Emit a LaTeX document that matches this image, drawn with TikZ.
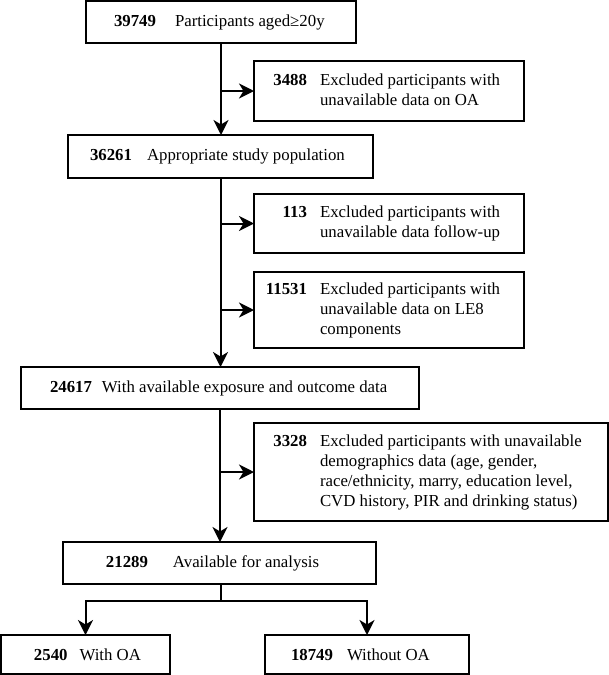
\documentclass[tikz,border=0pt]{standalone}
\usepackage{fontspec}
\setmainfont{Liberation Serif}
\usetikzlibrary{arrows.meta}
\newcommand{\bxtext}[3]{\makebox[#1][l]{\hspace{#2}#3}}
\newcommand{\exctext}[3]{\makebox[#1][l]{\hspace{11pt}\begin{tabular}{@{}r@{\hspace{13pt}}l@{}}\makebox[42pt][r]{\textbf{#2}} & #3\end{tabular}}}
\begin{document}
\begin{tikzpicture}[x=1pt,y=-1pt,
  box/.style={draw, line width=2pt, inner sep=0pt, outer sep=0pt,
    font=\fontsize{16.8}{20}\selectfont},
  arr/.style={line width=2pt, -{Stealth[length=15pt,width=15pt,inset=4.5pt]}},
  ln/.style={line width=2pt}]
\useasboundingbox (0,0) rectangle (609,675);

\node[box, minimum width=270pt, minimum height=60pt] (e1) at (389,91)
  {\exctext{270pt}{3488}{Excluded participants with\\ & unavailable data on OA}};
\node[box, minimum width=270pt, minimum height=42pt] (n1) at (221,22)
  {\bxtext{270pt}{28pt}{\textbf{39749}\hspace{19pt}Participants aged≥20y}};
\node[box, minimum width=305pt, minimum height=43pt] (n2) at (220.5,156.5)
  {\bxtext{305pt}{22pt}{\textbf{36261}\hspace{15pt}Appropriate study population}};
\node[box, minimum width=270pt, minimum height=59pt] (e2) at (389,223.5)
  {\exctext{270pt}{113}{Excluded participants with\\ & unavailable data follow-up}};
\node[box, minimum width=270pt, minimum height=76pt] (e3) at (389,310)
  {\exctext{270pt}{11531}{Excluded participants with\\ & unavailable data on LE8\\ & components}};
\node[box, minimum width=398pt, minimum height=42pt] (n3) at (220,388)
  {\bxtext{398pt}{29pt}{\textbf{24617}\hspace{10pt}With available exposure and outcome data}};
\node[box, minimum width=354pt, minimum height=98pt] (e4) at (431,472)
  {\exctext{354pt}{3328}{Excluded participants with unavailable\\ & demographics data (age, gender,\\ & race/ethnicity, marry, education level,\\ & CVD history, PIR and drinking status)}};
\node[box, minimum width=313pt, minimum height=42pt] (n4) at (219.5,563)
  {\bxtext{313pt}{43pt}{\textbf{21289}\hspace{25pt}Available for analysis}};
\node[box, minimum width=169pt, minimum height=39pt] (n5) at (85.5,654.5)
  {\bxtext{169pt}{33pt}{\textbf{2540}\hspace{12pt}With OA}};
\node[box, minimum width=204pt, minimum height=39pt] (n6) at (367,654.5)
  {\bxtext{204pt}{26pt}{\textbf{18749}\hspace{14pt}Without OA}};

\draw[arr] (n1.south) -- (n1.south |- n2.north);
\draw[arr] (n1.south |- e1.west) -- (e1.west);
\draw[arr] (n2.south) -- (n2.south |- n3.north);
\draw[arr] (n2.south |- e2.west) -- (e2.west);
\draw[arr] (n2.south |- e3.west) -- (e3.west);
\draw[arr] (n3.south) -- (n3.south |- n4.north);
\draw[arr] (n3.south |- e4.west) -- (e4.west);
\coordinate (sp) at (221,601);
\draw[ln] (n4.south -| sp) -- (sp);
\draw[arr] (sp) -| (n5.north);
\draw[arr] (sp) -| (n6.north);
\end{tikzpicture}
\end{document}
